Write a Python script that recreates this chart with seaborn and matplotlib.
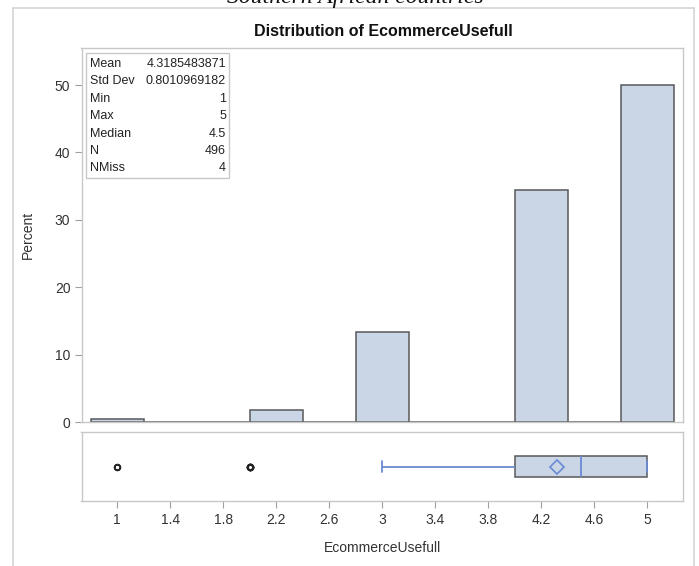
import numpy as np
import matplotlib
matplotlib.use("Agg")
import matplotlib.pyplot as plt
from matplotlib.patches import Rectangle
from matplotlib.lines import Line2D
import seaborn as sns

# ---- data ----
values = [1, 2, 3, 4, 5]
counts = [2, 9, 66, 171, 248]
stat_names = ["Mean", "Std Dev", "Min", "Max", "Median", "N", "NMiss"]
stat_values = ["4.3185483871", "0.8010969182", "1", "5", "4.5", "496", "4"]
xtick_vals = [1, 1.4, 1.8, 2.2, 2.6, 3, 3.4, 3.8, 4.2, 4.6, 5]
xtick_labels = ["1", "1.4", "1.8", "2.2", "2.6", "3", "3.4", "3.8", "4.2", "4.6", "5"]
ytick_vals = [0, 10, 20, 30, 40, 50]
title = "Distribution of EcommerceUsefull"
xlabel = "EcommerceUsefull"
ylabel = "Percent"
cut_caption = "Southern African countries"

sns.set_theme(style="white")
plt.rcParams['font.family'] = ['Liberation Sans', 'DejaVu Sans']

W, H = 699, 566
fig = plt.figure(figsize=(W / 100, H / 100), dpi=100)

def fx(px):
    return px / W

def fy(py):
    return 1 - py / H

FILL = "#CAD5E6"
EDGE = "#585858"
FRAME = "#C8C8C8"
BLUE = "#6A8AD4"
TXT = "#333333"

data = np.repeat(values, counts)
edges = np.round(np.arange(0.8, 5.21, 0.4), 2)

ax = fig.add_axes([fx(81.5), fy(422), fx(683) - fx(81.5), fy(48) - fy(422)])
sns.histplot(x=data, bins=edges, stat="percent", ax=ax, color=FILL, alpha=1,
             edgecolor=EDGE, linewidth=1.1)
ax.set_xlim(0.73, 5.27)
ax.set_ylim(0, 55.5)
ax.set_xticks([])
ax.set_yticks(ytick_vals)
ax.set_yticklabels([str(v) for v in ytick_vals], fontsize=10, color=TXT)
ax.tick_params(axis="y", length=5, width=0.8, color="#A0A0A0", pad=3, left=True)
ax.set_xlabel("")
ax.set_ylabel(ylabel, fontsize=10, color=TXT, labelpad=14)
for s in ax.spines.values():
    s.set_color(FRAME)
    s.set_linewidth(1.0)

bx = fig.add_axes([fx(81.5), fy(501), fx(683) - fx(81.5), fy(432) - fy(501)])
sns.boxplot(x=data, ax=bx, width=0.3, whis=1.5, showmeans=True,
            boxprops=dict(facecolor=FILL, edgecolor=EDGE, linewidth=1.1),
            medianprops=dict(color=BLUE, linewidth=1.3),
            whiskerprops=dict(color=BLUE, linewidth=1.3),
            capprops=dict(color=BLUE, linewidth=1.3),
            meanprops=dict(marker="D", markerfacecolor="none", markeredgecolor=BLUE,
                           markersize=7, markeredgewidth=1.2),
            flierprops=dict(marker="o", markerfacecolor="none", markeredgecolor="#222222",
                            markersize=4, markeredgewidth=1.3))
bx.set_xlim(0.73, 5.27)
bx.set_ylim(0.5, -0.5)
bx.set_yticks([])
bx.set_xticks(xtick_vals)
bx.set_xticklabels(xtick_labels, fontsize=10, color=TXT)
bx.tick_params(axis="x", length=5, width=0.8, color="#A0A0A0", pad=4, bottom=True)
bx.set_xlabel(xlabel, fontsize=10, color=TXT, labelpad=10)
for s in bx.spines.values():
    s.set_color(FRAME)
    s.set_linewidth(1.0)

# title
fig.text(fx(383), fy(32), title, ha="center", va="center", fontsize=11.5,
         fontweight="bold", color="#111111")

# stats inset box
fig.patches.append(Rectangle((fx(86), fy(178)), fx(229) - fx(86), fy(53) - fy(178),
                             transform=fig.transFigure, facecolor="white",
                             edgecolor=FRAME, linewidth=1.0, zorder=5))
for i, (n, v) in enumerate(zip(stat_names, stat_values)):
    yy = 64 + i * 17.4
    fig.text(fx(90), fy(yy), n, ha="left", va="center", fontsize=9, color="#222222", zorder=6)
    fig.text(fx(226), fy(yy), v, ha="right", va="center", fontsize=9, color="#222222", zorder=6)

# outer frame
for (x0, y0, x1, y1) in [(13, 8, 694, 8), (13, 8, 13, 566), (694, 8, 694, 566)]:
    fig.add_artist(Line2D([fx(x0), fx(x1)], [fy(y0), fy(y1)], transform=fig.transFigure,
                          color="#D4D4D4", linewidth=1.2))

# cut-off caption from the page above (only its lower part shows, as in the reference)
fig.text(fx(355), fy(3.5), cut_caption, ha="center", va="baseline", fontsize=17,
         style="italic", family=["Liberation Serif", "DejaVu Serif"], color="#111111")

fig.savefig("out.png", dpi=100)
